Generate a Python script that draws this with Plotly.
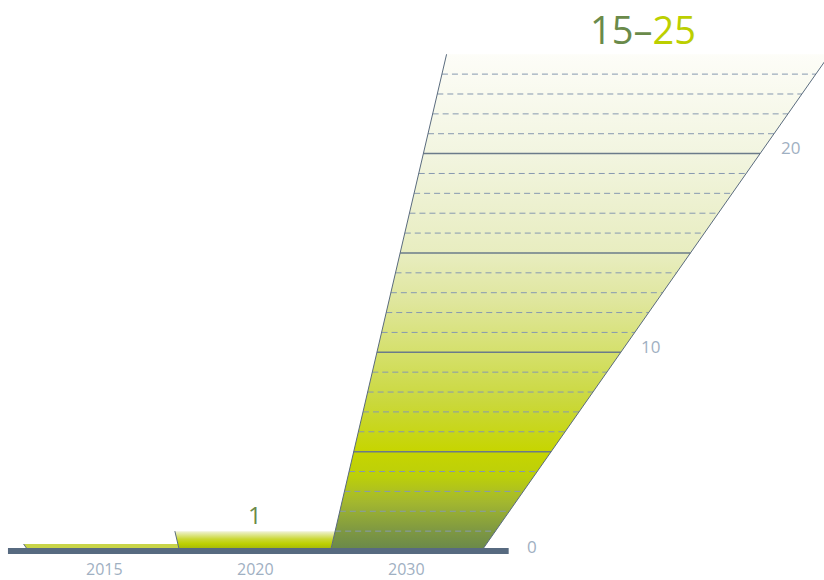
import plotly.graph_objects as go

# ---- data ----
years = ["2015", "2020", "2030"]
values = [0.35, 1, 25]
value_labels = ["", "1", "15–25"]
range_low = 15
range_high = 25
y_ticks = [0, 10, 20]
grid_step = 1
major_step = 5

# ---- geometry (perspective "skyline" bars) ----
VANISH_U = 1.5          # horizontal vanishing point (slot units)
DEPTH = 16.26           # value units to the vanishing point below the base
def edge(u_base, v):
    return VANISH_U + (u_base - VANISH_U) * (1 + v / DEPTH)

# pixel mapping used to set axis ranges
PX0, PXU = 28.5, 151    # px of slot 0, px per slot
PY0, PYV = 551, 19.87   # px of value 0, px per value unit
W, H = 824, 580
xr = [-PX0 / PXU, (W - PX0) / PXU]
yr = [(PY0 - H) / PYV, PY0 / PYV]

EDGE = "#5a6b7e"

scales = [
    [[0, "#c8d448"], [1, "#c8d448"]],
    [[0, "#98ac10"], [0.35, "#bccf00"], [0.6, "#cad834"], [1, "#f1f3da"]],
    [[0, "#68874a"], [0.04, "#7e9842"], [0.1, "#a4b82e"], [0.15, "#bccf0a"],
     [0.2, "#c6d500"], [0.3, "#cad83c"], [0.4, "#d5e06c"], [0.5, "#dfe69c"],
     [0.6, "#e8edc0"], [0.8, "#f2f5e0"], [1, "#fdfdf8"]],
]

fig = go.Figure()

for i, (y, v) in enumerate(zip(years, values)):
    xs = [i, i + 1, edge(i + 1, v), edge(i, v), i]
    ys = [0, 0, v, v, 0]
    fig.add_trace(go.Scatter(
        x=xs, y=ys, mode="lines", fill="toself", line=dict(width=0),
        fillgradient=dict(type="vertical", colorscale=scales[i], start=0, stop=v),
        hoverinfo="skip", showlegend=False))

# gridlines across the 2030 bar
i_big = 2
vmax = values[i_big]
minor_x, minor_y, major_x, major_y = [], [], [], []
g = grid_step
while g < vmax:
    tx = [edge(i_big, g), edge(i_big + 1, g), None]
    ty = [g, g, None]
    if g % major_step == 0:
        major_x += tx; major_y += ty
    else:
        minor_x += tx; minor_y += ty
    g += grid_step
fig.add_trace(go.Scatter(x=minor_x, y=minor_y, mode="lines",
                         line=dict(color="#8799b0", width=1, dash="6px,4px"),
                         hoverinfo="skip", showlegend=False))
fig.add_trace(go.Scatter(x=major_x, y=major_y, mode="lines",
                         line=dict(color="#6b7b8a", width=1.5),
                         hoverinfo="skip", showlegend=False))

# slanted edges
ex, ey = [], []
for i, v in enumerate(values):
    ex += [i, edge(i, v), None]; ey += [0, v, None]
ex += [i_big + 1, edge(i_big + 1, vmax), None]; ey += [0, vmax, None]
fig.add_trace(go.Scatter(x=ex, y=ey, mode="lines", line=dict(color=EDGE, width=1),
                         hoverinfo="skip", showlegend=False))

# baseline
fig.add_trace(go.Scatter(x=[-0.136, 3.18], y=[0, 0], mode="lines",
                         line=dict(color="#576a80", width=6),
                         hoverinfo="skip", showlegend=False))

ann = []
# category labels
for i, y in enumerate(years):
    ann.append(dict(x=i + 0.5, y=0, text=y, showarrow=False, yshift=-18,
                    borderpad=0, font=dict(size=16, color="#9fb0c2")))
# value tick labels along the right edge
for t in y_ticks:
    xs = 50 if t == 0 else 30
    ann.append(dict(x=edge(i_big + 1, t), y=t, text=str(t), showarrow=False,
                    xshift=xs, yshift=5 if t == 0 else 6,
                    font=dict(size=17, color="#9fb0c2")))
# value label of 2020
ann.append(dict(x=(edge(1, values[1]) + edge(2, values[1])) / 2, y=values[1],
                text=value_labels[1], showarrow=False, yshift=17,
                font=dict(size=24, color="#6a8a4a")))
# range label of 2030
ann.append(dict(x=(edge(2, vmax) + edge(3, vmax)) / 2, y=vmax,
                text=f"<span style='color:#6a8a4a'>{range_low}–</span>"
                     f"<span style='color:#bccf00'>{range_high}</span>",
                showarrow=False, xshift=5, yshift=25, font=dict(size=38)))

fig.update_layout(
    width=W, height=H, margin=dict(l=0, r=0, t=0, b=0),
    paper_bgcolor="white", plot_bgcolor="white",
    font=dict(family="Open Sans"),
    xaxis=dict(range=xr, visible=False, fixedrange=True),
    yaxis=dict(range=yr, visible=False, fixedrange=True),
    annotations=ann,
)

fig.write_html("out.html")
